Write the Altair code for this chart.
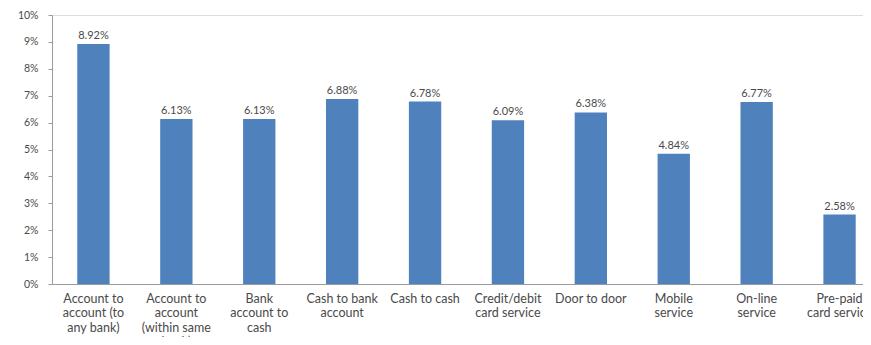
import altair as alt
import pandas as pd

categories = [
    "Account to account (to any bank)",
    "Account to account (within same bank)",
    "Bank account to cash",
    "Cash to bank account",
    "Cash to cash",
    "Credit/debit card service",
    "Door to door",
    "Mobile service",
    "On-line service",
    "Pre-paid card service",
]
tick_labels = [
    "Account to|account (to|any bank)",
    "Account to|account|(within same|bank)",
    "Bank|account to|cash",
    "Cash to bank|account",
    "Cash to cash",
    "Credit/debit|card service",
    "Door to door",
    "Mobile|service",
    "On-line|service",
    "Pre-paid|card service",
]
values_pct = [8.92, 6.13, 6.13, 6.88, 6.78, 6.09, 6.38, 4.84, 6.77, 2.58]

df = pd.DataFrame({
    "category": categories,
    "label": tick_labels,
    "value": [v / 100 for v in values_pct],
})

label_map = "{" + ",".join(f'"{c}":"{l}"' for c, l in zip(categories, tick_labels)) + "}"

FONT = "Lato"
TXT = "#4a4a4a"

x = alt.X(
    "category:N",
    sort=categories,
    title=None,
    scale=alt.Scale(range=[0, 829], paddingInner=0.61, paddingOuter=0.305),
    axis=alt.Axis(
        labelAngle=0,
        labelExpr=f"split({label_map}[datum.label], '|')",
        labelFont=FONT,
        labelFontSize=12.5,
        labelColor=TXT,
        labelLineHeight=14.5,
        labelPadding=8,
        labelLimit=200,
        ticks=False,
        domainColor="#9a9a9a",
    ),
)

base = alt.Chart(df).encode(
    x=x,
    y=alt.Y(
        "value:Q",
        title=None,
        scale=alt.Scale(domain=[0, 0.1], nice=False),
        axis=alt.Axis(
            format=".0%",
            values=[i / 100 for i in range(11)],
            labelFont=FONT,
            labelFontSize=10.5,
            labelColor=TXT,
            tickSize=4,
            tickColor="#9a9a9a",
            domainColor="#9a9a9a",
            grid=False,
            labelPadding=10,
        ),
    ),
)

bars = base.mark_bar(color="#4F81BD")
texts = base.mark_text(
    baseline="bottom", dy=-3, font=FONT, fontSize=11, color=TXT
).encode(text=alt.Text("value:Q", format=".2%"))

chart = (
    (bars + texts)
    .properties(
        width=811,
        height=269,
        autosize=alt.AutoSizeParams(type="none"),
        padding={"left": 44, "top": 7, "right": 0, "bottom": 53},
    )
    .configure_view(stroke=None)
    .configure(background="white")
)

chart.save("out.html", embed_options={"renderer": "svg", "actions": False})
